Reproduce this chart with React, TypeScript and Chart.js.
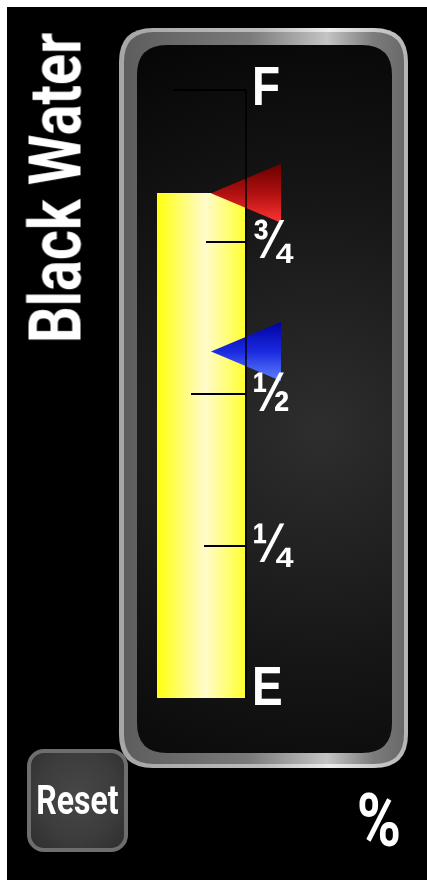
import React, { useEffect, useRef } from 'react';
import { Chart, registerables } from 'chart.js';

Chart.register(...registerables);

// ---- data ----
const CATEGORIES = ['Black Water'];
const LEVEL_VALUES = [83];
const MARKER_NAMES = ['High', 'Low'];
const MARKER_VALUES = [83, 57];
const TICK_VALUES = [100, 75, 50, 25, 0];
const TICK_LABELS = ['F', '¾', '½', '¼', 'E'];
const TITLE = 'Black Water';
const UNIT_LABEL = '%';
const BUTTON_LABEL = 'Reset';

// ---- styles ----
const TICK_LENGTHS = [73, 40, 55, 42, 0];
const LABEL_DY = [0, 1, 2, 1, -8];
const MARKER_GRADIENTS = [
  ['#6a0000', '#b01010', '#ff3434'],
  ['#0000a0', '#1a2ae0', '#6080ff'],
];
const FONT = 'Roboto, "Liberation Sans", Arial, sans-serif';
const TICK_FONT = '"Liberation Sans", Arial, sans-serif';

function roundRect(ctx: CanvasRenderingContext2D, x: number, y: number, w: number, h: number, r: number) {
  ctx.beginPath();
  ctx.moveTo(x + r, y);
  ctx.lineTo(x + w - r, y);
  ctx.quadraticCurveTo(x + w, y, x + w, y + r);
  ctx.lineTo(x + w, y + h - r);
  ctx.quadraticCurveTo(x + w, y + h, x + w - r, y + h);
  ctx.lineTo(x + r, y + h);
  ctx.quadraticCurveTo(x, y + h, x, y + h - r);
  ctx.lineTo(x, y + r);
  ctx.quadraticCurveTo(x, y, x + r, y);
  ctx.closePath();
}

const gaugePlugin = {
  id: 'gaugeDecor',
  beforeDraw(chart: any) {
    const ctx: CanvasRenderingContext2D = chart.ctx;
    const ox = 119, oy = 28, ow = 408 - 119, oh = 768 - 28;
    ctx.save();
    // outer light rim
    roundRect(ctx, ox, oy, ow, oh, 34);
    const light = ctx.createLinearGradient(ox, 0, ox + ow, 0);
    light.addColorStop(0, '#a6a6a6');
    light.addColorStop(0.5, '#bcbcbc');
    light.addColorStop(0.73, '#ececec');
    light.addColorStop(1, '#b4b4b4');
    ctx.fillStyle = light;
    ctx.fill();
    // mid gray band
    roundRect(ctx, ox + 5, oy + 4, ow - 9, oh - 8, 30);
    const mid = ctx.createLinearGradient(ox, 0, ox + ow, 0);
    mid.addColorStop(0, '#5c5c5c');
    mid.addColorStop(0.45, '#7a7a7a');
    mid.addColorStop(0.72, '#c4c4c4');
    mid.addColorStop(0.88, '#7c7c7c');
    mid.addColorStop(1, '#666666');
    ctx.fillStyle = mid;
    ctx.fill();
    // inner dark face
    roundRect(ctx, 137, 45, 392 - 137, 753 - 45, 30);
    const rg = ctx.createRadialGradient(320, 430, 0, 320, 430, 420);
    rg.addColorStop(0, '#2e2e2e');
    rg.addColorStop(0.55, '#161616');
    rg.addColorStop(1, '#060606');
    ctx.fillStyle = rg;
    ctx.fill();
    ctx.restore();
  },
  afterDatasetsDraw(chart: any) {
    const ctx: CanvasRenderingContext2D = chart.ctx;
    const area = chart.chartArea;
    const y = chart.scales.y;
    const axisX = area.right + 1;
    ctx.save();

    // markers (triangles pointing left)
    MARKER_VALUES.forEach((v, i) => {
      const cy = y.getPixelForValue(v);
      const tipX = area.left + 54;
      const baseX = area.right + 36;
      const half = 29.5;
      const g = ctx.createLinearGradient(0, cy - half, 0, cy + half);
      const cols = MARKER_GRADIENTS[i % MARKER_GRADIENTS.length];
      g.addColorStop(0, cols[0]);
      g.addColorStop(0.5, cols[1]);
      g.addColorStop(1, cols[2]);
      ctx.beginPath();
      ctx.moveTo(tipX, cy);
      ctx.lineTo(baseX, cy - half);
      ctx.lineTo(baseX, cy + half);
      ctx.closePath();
      ctx.fillStyle = g;
      ctx.fill();
    });

    // axis line
    ctx.strokeStyle = '#000';
    ctx.lineWidth = 1.5;
    ctx.beginPath();
    ctx.moveTo(axisX, y.getPixelForValue(TICK_VALUES[0]));
    ctx.lineTo(axisX, y.getPixelForValue(TICK_VALUES[TICK_VALUES.length - 1]));
    ctx.stroke();

    // ticks
    ctx.lineWidth = 2;
    TICK_VALUES.forEach((v, i) => {
      const len = TICK_LENGTHS[i];
      if (!len) return;
      const ty = Math.round(y.getPixelForValue(v));
      ctx.beginPath();
      ctx.moveTo(axisX - len, ty);
      ctx.lineTo(axisX, ty);
      ctx.stroke();
    });

    // tick labels
    ctx.fillStyle = '#ffffff';
    ctx.font = `bold 56px ${TICK_FONT}`;
    ctx.textAlign = 'left';
    ctx.textBaseline = 'middle';
    TICK_VALUES.forEach((v, i) => {
      const ty = y.getPixelForValue(v) + LABEL_DY[i];
      ctx.save();
      ctx.translate(area.right + 7, ty);
      ctx.scale(0.82, 1);
      ctx.fillText(TICK_LABELS[i], 0, 0);
      ctx.restore();
    });
    ctx.restore();
  },
};

export default function App() {
  const ref = useRef<HTMLCanvasElement | null>(null);

  useEffect(() => {
    if (!ref.current) return;
    const chart = new Chart(ref.current, {
      type: 'bar',
      data: {
        labels: CATEGORIES,
        datasets: [
          {
            label: TITLE,
            data: LEVEL_VALUES,
            barPercentage: 1,
            categoryPercentage: 1,
            borderWidth: 0,
            backgroundColor: (c: any) => {
              const area = c.chart.chartArea;
              if (!area) return '#ffff00';
              const g = c.chart.ctx.createLinearGradient(area.left, 0, area.right, 0);
              g.addColorStop(0, '#ffff10');
              g.addColorStop(0.1, '#ffff30');
              g.addColorStop(0.55, '#fffbcc');
              g.addColorStop(0.88, '#ffff5a');
              g.addColorStop(1, '#ffff30');
              return g;
            },
          },
        ],
      },
      options: {
        responsive: false,
        animation: false,
        events: [],
        layout: { padding: { left: 157, right: 182, top: 90, bottom: 182 } },
        plugins: { legend: { display: false }, tooltip: { enabled: false } },
        scales: {
          x: { display: false },
          y: { display: false, min: 0, max: 100 },
        },
      },
      plugins: [gaugePlugin],
    } as any);
    return () => chart.destroy();
  }, []);

  return (
    <div style={{ position: 'fixed', left: 0, top: 0, width: 427, height: 880, background: '#fff', overflow: 'hidden' }}>
      <div style={{ position: 'absolute', left: 7, top: 7, width: 420, height: 873, background: '#000' }} />
      <canvas ref={ref} width={427} height={880} style={{ position: 'absolute', left: 0, top: 0, width: 427, height: 880 }} />
      <div
        style={{
          position: 'absolute',
          left: 56,
          top: 187.5,
          transform: 'translate(-50%,-50%) rotate(-90deg) scaleX(0.79)',
          whiteSpace: 'nowrap',
          color: '#fff',
          fontFamily: FONT,
          fontWeight: 'bold',
          fontSize: 73,
          lineHeight: '73px',
        }}
      >
        {TITLE}
      </div>
      <div
        style={{
          position: 'absolute',
          left: 27,
          top: 749,
          width: 101,
          height: 103,
          boxSizing: 'border-box',
          borderRadius: 17,
          border: '4px solid #6e6e6e',
          background: 'radial-gradient(ellipse at 50% 45%, #474747 0%, #3c3c3c 60%, #2e2e2e 100%)',
          display: 'flex',
          alignItems: 'center',
          justifyContent: 'center',
        }}
      >
        <span
          style={{
            display: 'inline-block',
            color: '#fff',
            fontFamily: FONT,
            fontWeight: 'bold',
            fontSize: 40,
            lineHeight: '40px',
            transform: 'scaleX(0.8)',
            whiteSpace: 'nowrap',
          }}
        >
          {BUTTON_LABEL}
        </span>
      </div>
      <div
        style={{
          position: 'absolute',
          left: 329,
          top: 783,
          width: 100,
          textAlign: 'center',
          color: '#fff',
          fontFamily: FONT,
          fontWeight: 'bold',
          fontSize: 75,
          lineHeight: '75px',
          transform: 'scaleX(0.8)',
        }}
      >
        {UNIT_LABEL}
      </div>
    </div>
  );
}
